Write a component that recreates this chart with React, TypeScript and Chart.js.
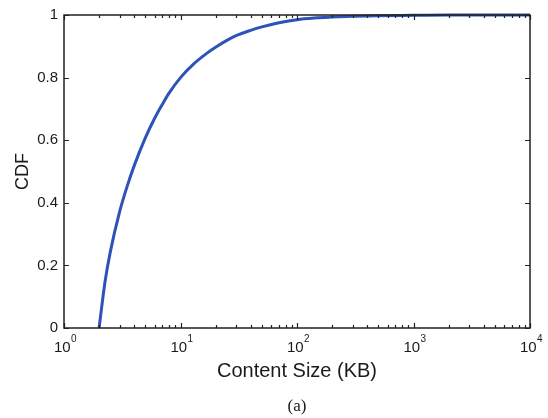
import React, { useEffect, useRef } from "react";
import { Chart, registerables } from "chart.js";

Chart.register(...registerables);

// ---- Data ----
const SIZES_KB = [2, 2.25, 2.5, 3, 3.5, 4, 5, 6, 7, 8, 10, 13, 17, 20, 25, 30, 40, 50, 70, 100, 150, 200, 300, 500, 1000, 2000, 5000, 10000];
const CDF_VALUES = [0, 0.148, 0.244, 0.371, 0.455, 0.518, 0.608, 0.67, 0.715, 0.751, 0.8, 0.844, 0.879, 0.897, 0.919, 0.934, 0.951, 0.962, 0.975, 0.985, 0.991, 0.994, 0.996, 0.998, 0.999, 1, 1, 1];

const X_TICKS = [1, 10, 100, 1000, 10000];
const X_TICK_BASE = "10";
const X_TICK_EXPONENTS = ["0", "1", "2", "3", "4"];
const Y_TICKS = [0, 0.2, 0.4, 0.6, 0.8, 1];
const Y_TICK_LABELS = ["0", "0.2", "0.4", "0.6", "0.8", "1"];
const MINOR_MULTIPLIERS = [2, 3, 4, 5, 6, 7, 8, 9];

const X_TITLE = "Content Size (KB)";
const Y_TITLE = "CDF";
const CAPTION = "(a)";

const SANS = "'Liberation Sans', Arial, Helvetica, sans-serif";
const TEXT_COLOR = "#1a1a1a";

const boxAndTicks = {
  id: "boxAndTicks",
  afterDatasetsDraw(chart: any) {
    const { ctx, chartArea } = chart;
    const xs = chart.scales.x;
    const ys = chart.scales.y;
    const { left, right, top, bottom } = chartArea;
    ctx.save();
    ctx.strokeStyle = "#222";
    ctx.lineWidth = 1.2;
    const major = 5;
    const minor = 3;
    ctx.beginPath();
    X_TICKS.forEach((v) => {
      const px = Math.round(xs.getPixelForValue(v)) + 0.5;
      ctx.moveTo(px, bottom);
      ctx.lineTo(px, bottom - major);
      ctx.moveTo(px, top);
      ctx.lineTo(px, top + major);
    });
    X_TICKS.slice(0, -1).forEach((d) => {
      MINOR_MULTIPLIERS.forEach((m) => {
        const px = Math.round(xs.getPixelForValue(d * m)) + 0.5;
        ctx.moveTo(px, bottom);
        ctx.lineTo(px, bottom - minor);
        ctx.moveTo(px, top);
        ctx.lineTo(px, top + minor);
      });
    });
    Y_TICKS.forEach((v) => {
      const py = Math.round(ys.getPixelForValue(v)) + 0.5;
      ctx.moveTo(left, py);
      ctx.lineTo(left + major, py);
      ctx.moveTo(right, py);
      ctx.lineTo(right - major, py);
    });
    ctx.stroke();
    ctx.lineWidth = 1.5;
    ctx.strokeRect(left, top, right - left, bottom - top);

    // x tick labels as 10^n with raised exponents
    ctx.fillStyle = TEXT_COLOR;
    ctx.textBaseline = "alphabetic";
    ctx.textAlign = "left";
    const baseFont = `15px ${SANS}`;
    const expFont = `10px ${SANS}`;
    X_TICKS.forEach((v, i) => {
      const px = xs.getPixelForValue(v);
      ctx.font = baseFont;
      const bw = ctx.measureText(X_TICK_BASE).width;
      ctx.font = expFont;
      const ew = ctx.measureText(X_TICK_EXPONENTS[i]).width;
      const start = px - (bw + ew) / 2 + 1;
      ctx.font = baseFont;
      ctx.fillText(X_TICK_BASE, start, bottom + 24);
      ctx.font = expFont;
      ctx.fillText(X_TICK_EXPONENTS[i], start + bw + 0.5, bottom + 14);
    });
    ctx.restore();
  },
};

export default function App() {
  const canvasRef = useRef<HTMLCanvasElement | null>(null);

  useEffect(() => {
    if (!canvasRef.current) return;
    Chart.defaults.font.family = SANS;
    const chart = new Chart(canvasRef.current, {
      type: "line",
      data: {
        datasets: [
          {
            label: Y_TITLE,
            data: SIZES_KB.map((x, i) => ({ x, y: CDF_VALUES[i] })),
            borderColor: "#2d52b8",
            backgroundColor: "#2d52b8",
            borderWidth: 3,
            pointRadius: 0,
            cubicInterpolationMode: "monotone",
            fill: false,
            clip: 6,
          } as any,
        ],
      },
      options: {
        responsive: false,
        animation: false,
        events: [],
        layout: { padding: { top: 11, right: 18, left: 0, bottom: 0 } },
        plugins: {
          legend: { display: false },
          tooltip: { enabled: false },
          title: {
            display: true,
            position: "bottom",
            fullSize: false,
            text: CAPTION,
            color: TEXT_COLOR,
            font: { family: "'Liberation Serif', 'Times New Roman', serif", size: 17, weight: "normal" },
            padding: { top: 0, bottom: 1 },
          },
        },
        scales: {
          x: {
            type: "logarithmic",
            min: 1,
            max: 10000,
            grid: { display: false, drawTicks: false },
            border: { display: false },
            afterBuildTicks: (scale: any) => {
              scale.ticks = X_TICKS.map((v) => ({ value: v }));
            },
            afterFit: (scale: any) => {
              scale.height = 68.6;
            },
            ticks: { display: false },
            title: {
              display: true,
              text: X_TITLE,
              color: TEXT_COLOR,
              font: { size: 20 },
              padding: { top: 0, bottom: 13.6 },
            },
          },
          y: {
            type: "linear",
            min: 0,
            max: 1,
            grid: { display: false, drawTicks: false },
            border: { display: false },
            afterBuildTicks: (scale: any) => {
              scale.ticks = Y_TICKS.map((v) => ({ value: v }));
            },
            afterFit: (scale: any) => {
              scale.width = 64;
            },
            ticks: {
              padding: 6,
              color: TEXT_COLOR,
              font: { size: 15 },
              callback: (value: any) => {
                const i = Y_TICKS.findIndex((t) => Math.abs(t - Number(value)) < 1e-9);
                return i >= 0 ? Y_TICK_LABELS[i] : "";
              },
            },
            title: {
              display: true,
              text: Y_TITLE,
              color: TEXT_COLOR,
              font: { size: 18 },
              padding: { top: 12, bottom: 0 },
            },
          },
        },
      },
      plugins: [boxAndTicks],
    });
    return () => chart.destroy();
  }, []);

  return (
    <div style={{ position: "fixed", left: 0, top: 0, width: 548, height: 418, background: "#fff" }}>
      <canvas ref={canvasRef} width={548} height={418} style={{ display: "block" }} />
    </div>
  );
}
